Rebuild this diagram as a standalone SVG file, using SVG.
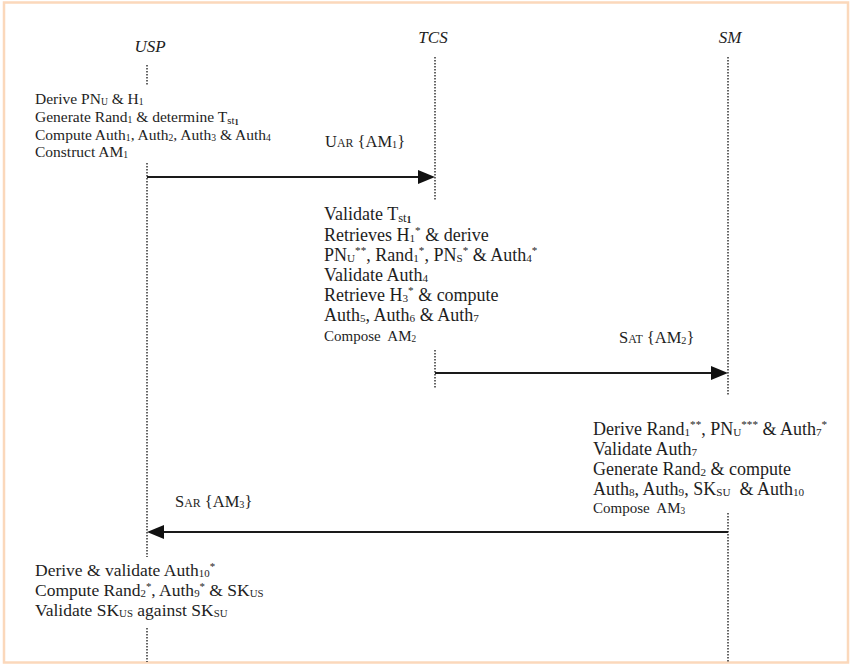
<svg xmlns="http://www.w3.org/2000/svg" width="852" height="665" viewBox="0 0 852 665">
<style>
text { font-family: "Liberation Serif", "Times New Roman", serif; fill: #1e1e1e; }
.actor { font-size: 17px; font-style: italic; text-anchor: middle; }
.t15 { font-size: 15.5px; }
.t18 { font-size: 18px; }
.t17 { font-size: 17.5px; }
.small { font-size: 15px; }
.lbl { font-size: 16.5px; }
.sub { font-size: 62%; baseline-shift: -0.12em; }
.sup { font-size: 62%; baseline-shift: 0.6em; }
.sc { font-size: 72%; }
.st { font-size: 70%; baseline-shift: -0.15em; }
.st1 { font-size: 55%; baseline-shift: -0.35em; font-weight: bold; }
.life { stroke: #333; stroke-width: 1.5; stroke-dasharray: 1.5 1.5; fill: none; }
.msg { stroke: #1a1a1a; stroke-width: 2.2; fill: none; marker-end: url(#ah); }
</style>
<defs>
<marker id="ah" markerUnits="userSpaceOnUse" markerWidth="18" markerHeight="15" refX="7" refY="7" orient="auto">
<path d="M0,0 L17,7 L0,14 z" fill="#111"/>
</marker>
</defs>
<rect x="4" y="2.5" width="844" height="660" fill="#fff" stroke="#fbd8bb" stroke-width="2.5"/>

<g id="USP">
<text class="actor" x="150" y="52">USP</text>
<line class="life" x1="147" y1="65" x2="147" y2="85"/>
<line class="life" x1="147" y1="163" x2="147" y2="557"/>
<line class="life" x1="147" y1="628" x2="147" y2="662"/>
<text class="t15" x="35" y="104">Derive PN<tspan class="sub">U</tspan> &amp; H<tspan class="sub">1</tspan></text>
<text class="t15" x="35" y="122">Generate Rand<tspan class="sub">1</tspan> &amp; determine T<tspan class="st">st</tspan><tspan class="st1">1</tspan></text>
<text class="t15" x="35" y="140">Compute Auth<tspan class="sub">1</tspan>, Auth<tspan class="sub">2</tspan>, Auth<tspan class="sub">3</tspan> &amp; Auth<tspan class="sub">4</tspan></text>
<text class="t15" x="35" y="157">Construct AM<tspan class="sub">1</tspan></text>
<text class="t17" x="35" y="576">Derive &amp; validate Auth<tspan class="sub">10</tspan><tspan class="sup">*</tspan></text>
<text class="t17" x="35" y="596">Compute Rand<tspan class="sub">2</tspan><tspan class="sup">*</tspan>, Auth<tspan class="sub">9</tspan><tspan class="sup">*</tspan> &amp; SK<tspan class="sub">US</tspan></text>
<text class="t17" x="35" y="616">Validate SK<tspan class="sub">US</tspan> against SK<tspan class="sub">SU</tspan></text>
</g>

<g id="TCS">
<text class="actor" x="433" y="43">TCS</text>
<line class="life" x1="435" y1="57" x2="435" y2="201"/>
<line class="life" x1="435" y1="350" x2="435" y2="388"/>
<text class="t18" x="324" y="220">Validate T<tspan class="st">st</tspan><tspan class="st1">1</tspan></text>
<text class="t18" x="324" y="241">Retrieves H<tspan class="sub">1</tspan><tspan class="sup">*</tspan> &amp; derive</text>
<text class="t18" x="324" y="261">PN<tspan class="sub">U</tspan><tspan class="sup">**</tspan>, Rand<tspan class="sub">1</tspan><tspan class="sup">*</tspan>, PN<tspan class="sub">S</tspan><tspan class="sup">*</tspan> &amp; Auth<tspan class="sub">4</tspan><tspan class="sup">*</tspan></text>
<text class="t18" x="324" y="281">Validate Auth<tspan class="sub">4</tspan></text>
<text class="t18" x="324" y="301">Retrieve H<tspan class="sub">3</tspan><tspan class="sup">*</tspan> &amp; compute</text>
<text class="t18" x="324" y="321">Auth<tspan class="sub">5</tspan>, Auth<tspan class="sub">6</tspan> &amp; Auth<tspan class="sub">7</tspan></text>
<text class="small" x="324" y="341" xml:space="preserve">Compose  AM<tspan class="sub">2</tspan></text>
</g>

<g id="SM">
<text class="actor" x="730" y="43">SM</text>
<line class="life" x1="728" y1="57" x2="728" y2="395"/>
<line class="life" x1="728" y1="513" x2="728" y2="662"/>
<text class="t18" x="593" y="435">Derive Rand<tspan class="sub">1</tspan><tspan class="sup">**</tspan>, PN<tspan class="sub">U</tspan><tspan class="sup">***</tspan> &amp; Auth<tspan class="sub">7</tspan><tspan class="sup">*</tspan></text>
<text class="t18" x="593" y="455">Validate Auth<tspan class="sub">7</tspan></text>
<text class="t18" x="593" y="475">Generate Rand<tspan class="sub">2</tspan> &amp; compute</text>
<text class="t18" x="593" y="495" xml:space="preserve">Auth<tspan class="sub">8</tspan>, Auth<tspan class="sub">9</tspan>, SK<tspan class="sub">SU</tspan>  &amp; Auth<tspan class="sub">10</tspan></text>
<text class="small" x="593" y="513" xml:space="preserve">Compose  AM<tspan class="sub">3</tspan></text>
</g>

<g id="connectors">
<line class="msg" x1="147" y1="177" x2="425" y2="177"/>
<text class="lbl" x="325" y="147">U<tspan class="sc">AR</tspan> {AM<tspan class="sub">1</tspan>}</text>
<line class="msg" x1="435" y1="373" x2="718" y2="373"/>
<text class="lbl" x="619" y="343">S<tspan class="sc">AT</tspan> {AM<tspan class="sub">2</tspan>}</text>
<line class="msg" x1="728" y1="532" x2="157" y2="532"/>
<text class="lbl" x="175" y="507">S<tspan class="sc">AR</tspan> {AM<tspan class="sub">3</tspan>}</text>
</g>
</svg>
